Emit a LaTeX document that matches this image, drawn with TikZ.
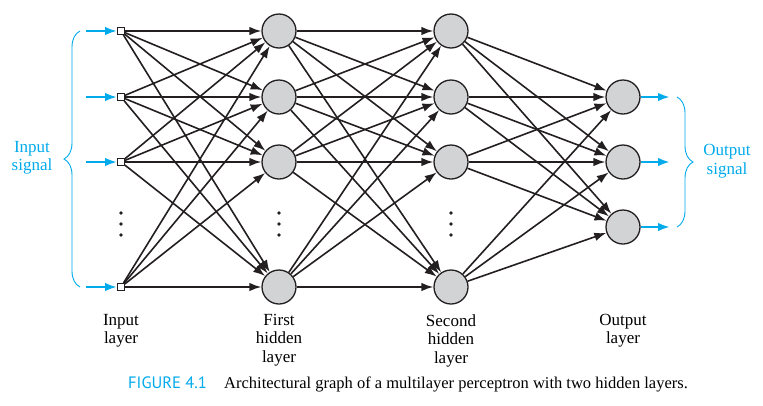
\documentclass[tikz,border=0pt]{standalone}
\usepackage{fontspec}
\setmainfont{Liberation Serif}
\newfontfamily\capfont{PT Sans}
\usetikzlibrary{arrows.meta,decorations.pathreplacing}
\definecolor{sigblue}{RGB}{0,170,235}
\definecolor{cellgray}{RGB}{210,211,213}
\definecolor{inkblack}{RGB}{35,31,32}

\begin{document}
\begin{tikzpicture}[x=1pt,y=-1pt,
  neuron/.style={circle,draw=inkblack,line width=1.3pt,fill=cellgray,minimum size=34pt,inner sep=0pt},
  inbox/.style={rectangle,draw=inkblack,line width=0.9pt,fill=white,minimum size=7pt,inner sep=0pt},
  conn/.style={draw=inkblack,line width=1.6pt,-{Latex[length=12pt,width=8.5pt]}},
  sig/.style={draw=sigblue,line width=2.2pt,-{Latex[length=12pt,width=8.5pt]}},
  sigbrace/.style={draw=sigblue,line width=0.9pt,decorate,decoration={brace,amplitude=16pt}},
  lbl/.style={align=center,font=\fontsize{17}{18.5}\selectfont,inner sep=0pt}]
  \useasboundingbox (0,0) rectangle (763,405);
  % neurons
  \foreach \y/\n in {31/1, 97/2, 162/3, 287/4}
    {\node[inbox] (in\n) at (121,\y) {};
     \node[neuron] (ha\n) at (279,\y) {};
     \node[neuron] (hb\n) at (451,\y) {};}
  \foreach \y/\n in {97/1, 162/2, 227/3}
    \node[neuron] (out\n) at (623,\y) {};
  % dots
  \foreach \x in {121,279,451}
    \foreach \y in {213,224,235}
      \fill[inkblack] (\x,\y) circle (1.8pt);
  % connections
  \foreach \i in {1,...,4}
    \foreach \j in {1,...,4}
      {\draw[conn] (in\i) -- (ha\j); \draw[conn] (ha\i) -- (hb\j);}
  \foreach \i in {1,...,4}
    \foreach \j in {1,2,3}
      \draw[conn] (hb\i) -- (out\j);
  % signals
  \foreach \n/\y in {1/31, 2/97, 3/162, 4/287}
    {\coordinate (src\n) at (86,\y); \draw[sig] (src\n) -- (in\n);}
  \foreach \n/\y in {1/97, 2/162, 3/227}
    {\coordinate (dst\n) at (670,\y); \draw[sig] (out\n) -- (dst\n);}
  \draw[sigbrace] (80,287) -- (80,31);
  \draw[sigbrace] (677,97) -- (677,227);
  \node[lbl,text=sigblue] (insig) at (32,158) {Input\\signal};
  \node[lbl,text=sigblue] (outsig) at (727,161) {Output\\signal};
  % layer labels
  \node[lbl,anchor=north] (inlbl) at (121,314) {Input\\layer};
  \node[lbl,anchor=north] (halbl) at (279,314) {First\\hidden\\layer};
  \node[lbl,anchor=north] (hblbl) at (451,314) {Second\\hidden\\layer};
  \node[lbl,anchor=north] (outlbl) at (623,314) {Output\\layer};
  % caption
  \node[anchor=base west,inner sep=0pt,text=sigblue,font=\capfont\fontsize{16.5}{18}\selectfont] (fignum) at (128,388) {FIGURE 4.1};
  \node[anchor=base west,inner sep=0pt,font=\fontsize{16.5}{18}\selectfont] (captext) at (224,388) {Architectural graph of a multilayer perceptron with two hidden layers.};
\end{tikzpicture}
\end{document}
